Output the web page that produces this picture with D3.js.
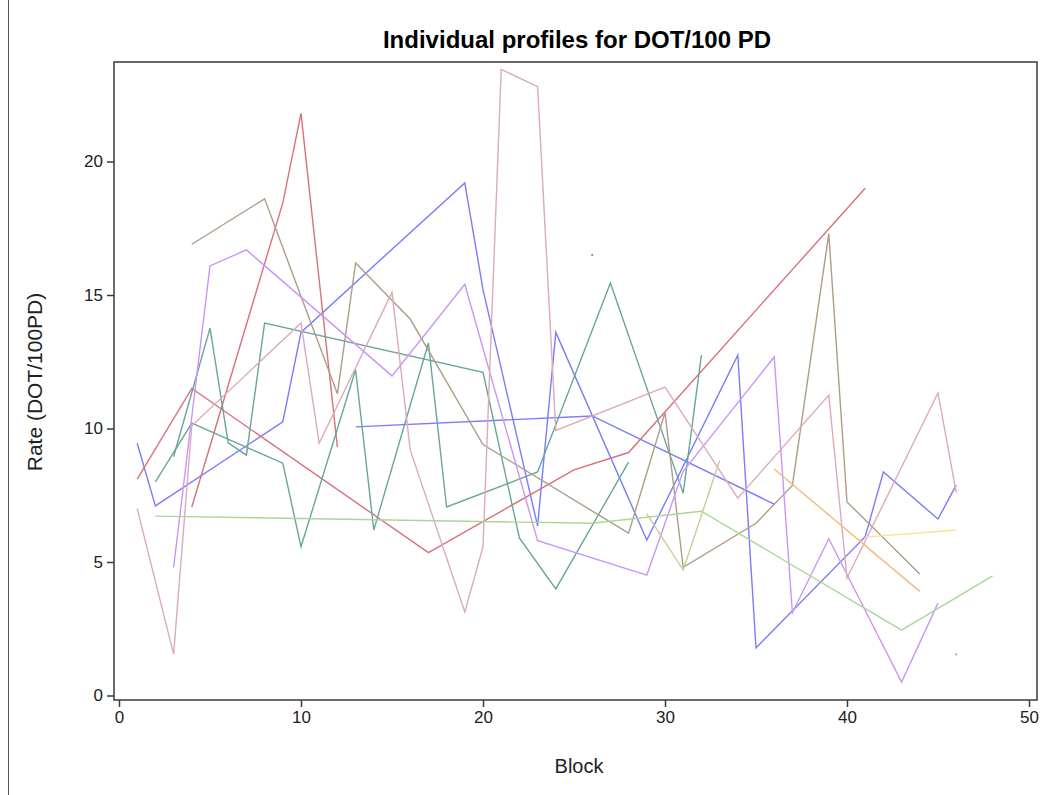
<!DOCTYPE html>
<html><head><meta charset="utf-8">
<script src="https://cdn.jsdelivr.net/npm/d3@7"></script>
<style>body{margin:0;background:#fff;} svg{display:block;}</style>
</head><body>
<svg id="chart" width="1047" height="795"></svg>
<script>
// ---- data ----
const xTicks = [0, 10, 20, 30, 40, 50];
const yTicks = [0, 5, 10, 15, 20];
const titleText = "Individual profiles for DOT/100 PD";
const xLabel = "Block";
const yLabel = "Rate (DOT/100PD)";

// each subject: [block, rate]
const subjBlueA  = [[1,9.45],[2,7.1],[9,10.25],[10,13.6],[19,19.2],[20,15.2],[23,6.35],[24,13.6],[29,5.82],[34,12.75],[35,1.78],[41,5.95],[42,8.37],[45,6.61],[46,7.88]];
const subjBlueB  = [[13,10.06],[26,10.47],[36,7.17]];
const subjBlueC  = [[26,16.5]];
const subjRedA   = [[1,8.1],[4,11.5],[17,5.35],[25,8.45],[28,9.1],[41,19.0]];
const subjRedB   = [[4,7.06],[9,18.45],[10,21.8],[12,9.3]];
const subjTealA  = [[2,8.0],[4,10.2],[9,8.7],[10,5.57],[13,12.2],[14,6.2],[17,13.2],[18,7.06],[23,8.37],[27,15.45],[31,7.58],[32,12.75]];
const subjTealB  = [[3,8.94],[5,13.76],[6,9.46],[7,9.0],[8,13.95],[20,12.1],[22,5.9],[24,3.99],[28,8.74]];
const subjBrown  = [[4,16.9],[8,18.6],[12,11.3],[13,16.2],[16,14.1],[20,9.4],[28,6.08],[30,10.6],[31,4.8],[35,6.45],[37,7.87],[39,17.3],[40,7.25],[44,4.55]];
const subjPurple = [[3,4.8],[5,16.09],[7,16.69],[15,11.97],[19,15.4],[23,5.8],[29,4.51],[31,8.4],[36,12.68],[37,3.1],[39,5.87],[43,0.5],[45,3.46]];
const subjPink   = [[1,7.0],[3,1.55],[4,10.1],[10,13.95],[11,9.45],[15,15.1],[16,9.2],[19,3.13],[20,5.57],[21,23.45],[23,22.8],[24,9.93],[30,11.55],[34,7.39],[39,11.25],[40,4.4],[45,11.33],[46,7.6]];
const subjGreen  = [[2,6.72],[26,6.45],[32,6.9],[43,2.45],[48,4.48]];
const subjOlive  = [[29,6.8],[31,4.7],[33,8.8]];
const subjOrange = [[36,8.48],[44,3.9]];
const subjYellow = [[41,5.93],[46,6.2]];
const subjSky    = [[46,1.54]];

const subjects = [subjBlueA, subjBlueB, subjBlueC, subjRedA, subjRedB, subjTealA, subjTealB, subjBrown,
                  subjPurple, subjPink, subjGreen, subjOlive, subjOrange, subjYellow, subjSky];
const subjectGroup = ["blue","blue","blue","red","red","teal","teal","brown","purple","pink","green","olive","orange","yellow","sky"];

// ---- style ----
const palette = {
  blue:"#7b7bfb", red:"#d9707b", teal:"#67a699", brown:"#ae9d87", purple:"#cb95f6",
  pink:"#dcaabb", green:"#a9d896", olive:"#c8cd94", orange:"#f2bb7a", yellow:"#fbe488", sky:"#7ab2ff"
};
const FONT = "'Liberation Sans', Arial, sans-serif";

const svg = d3.select("#chart");
const L = 114, T = 62, R = 1037, B = 700;
const x = d3.scaleLinear().domain([(L-119)/18.2, (R-119)/18.2]).range([L, R]);
const y = d3.scaleLinear().domain([(695.5-B)/26.7, (695.5-T)/26.7]).range([B, T]);

svg.append("rect").attr("x",0).attr("y",0).attr("width",1047).attr("height",795).attr("fill","#fff");
// outer page border (left edge)
svg.append("line").attr("x1",8.5).attr("x2",8.5).attr("y1",0).attr("y2",795).attr("stroke","#555").attr("stroke-width",1);

const g = svg.append("g");
const line = d3.line().x(d => x(d[0])).y(d => y(d[1]));

subjects.forEach((s, i) => {
  const c = palette[subjectGroup[i]];
  if (s.length > 1) {
    g.append("path").datum(s).attr("d", line).attr("fill","none")
      .attr("stroke", c).attr("stroke-width", 1.4).attr("stroke-linejoin","miter");
  } else {
    g.append("circle").attr("cx", x(s[0][0])).attr("cy", y(s[0][1])).attr("r", 1.1).attr("fill", c);
  }
});

// frame
svg.append("rect").attr("x",L).attr("y",T).attr("width",R-L).attr("height",B-T)
  .attr("fill","none").attr("stroke","#3a3a3a").attr("stroke-width",1.5);

// axes
const xAxis = d3.axisBottom(x).tickValues(xTicks).tickSize(7).tickPadding(4).tickFormat(d3.format("d"));
const gx = svg.append("g").attr("transform",`translate(0,${B})`).call(xAxis);
gx.select(".domain").remove();
const yAxis = d3.axisLeft(y).tickValues(yTicks).tickSize(7).tickPadding(4).tickFormat(d3.format("d"));
const gy = svg.append("g").attr("transform",`translate(${L},0)`).call(yAxis);
gy.select(".domain").remove();
[gx, gy].forEach(a => {
  a.selectAll("line").attr("stroke","#3a3a3a").attr("stroke-width",1.5);
  a.selectAll("text").attr("fill","#222").style("font-family",FONT).style("font-size","17px");
});

svg.append("text").attr("x",577).attr("y",48).attr("text-anchor","middle")
  .style("font-family",FONT).style("font-size","24px").style("font-weight","bold")
  .attr("fill","#000").text(titleText);
svg.append("text").attr("x",579).attr("y",773).attr("text-anchor","middle")
  .style("font-family",FONT).style("font-size","20px")
  .attr("fill","#222").text(xLabel);
svg.append("text").attr("transform","translate(42,382) rotate(-90)").attr("text-anchor","middle")
  .style("font-family",FONT).style("font-size","21px")
  .attr("fill","#222").text(yLabel);
</script>
</body></html>
